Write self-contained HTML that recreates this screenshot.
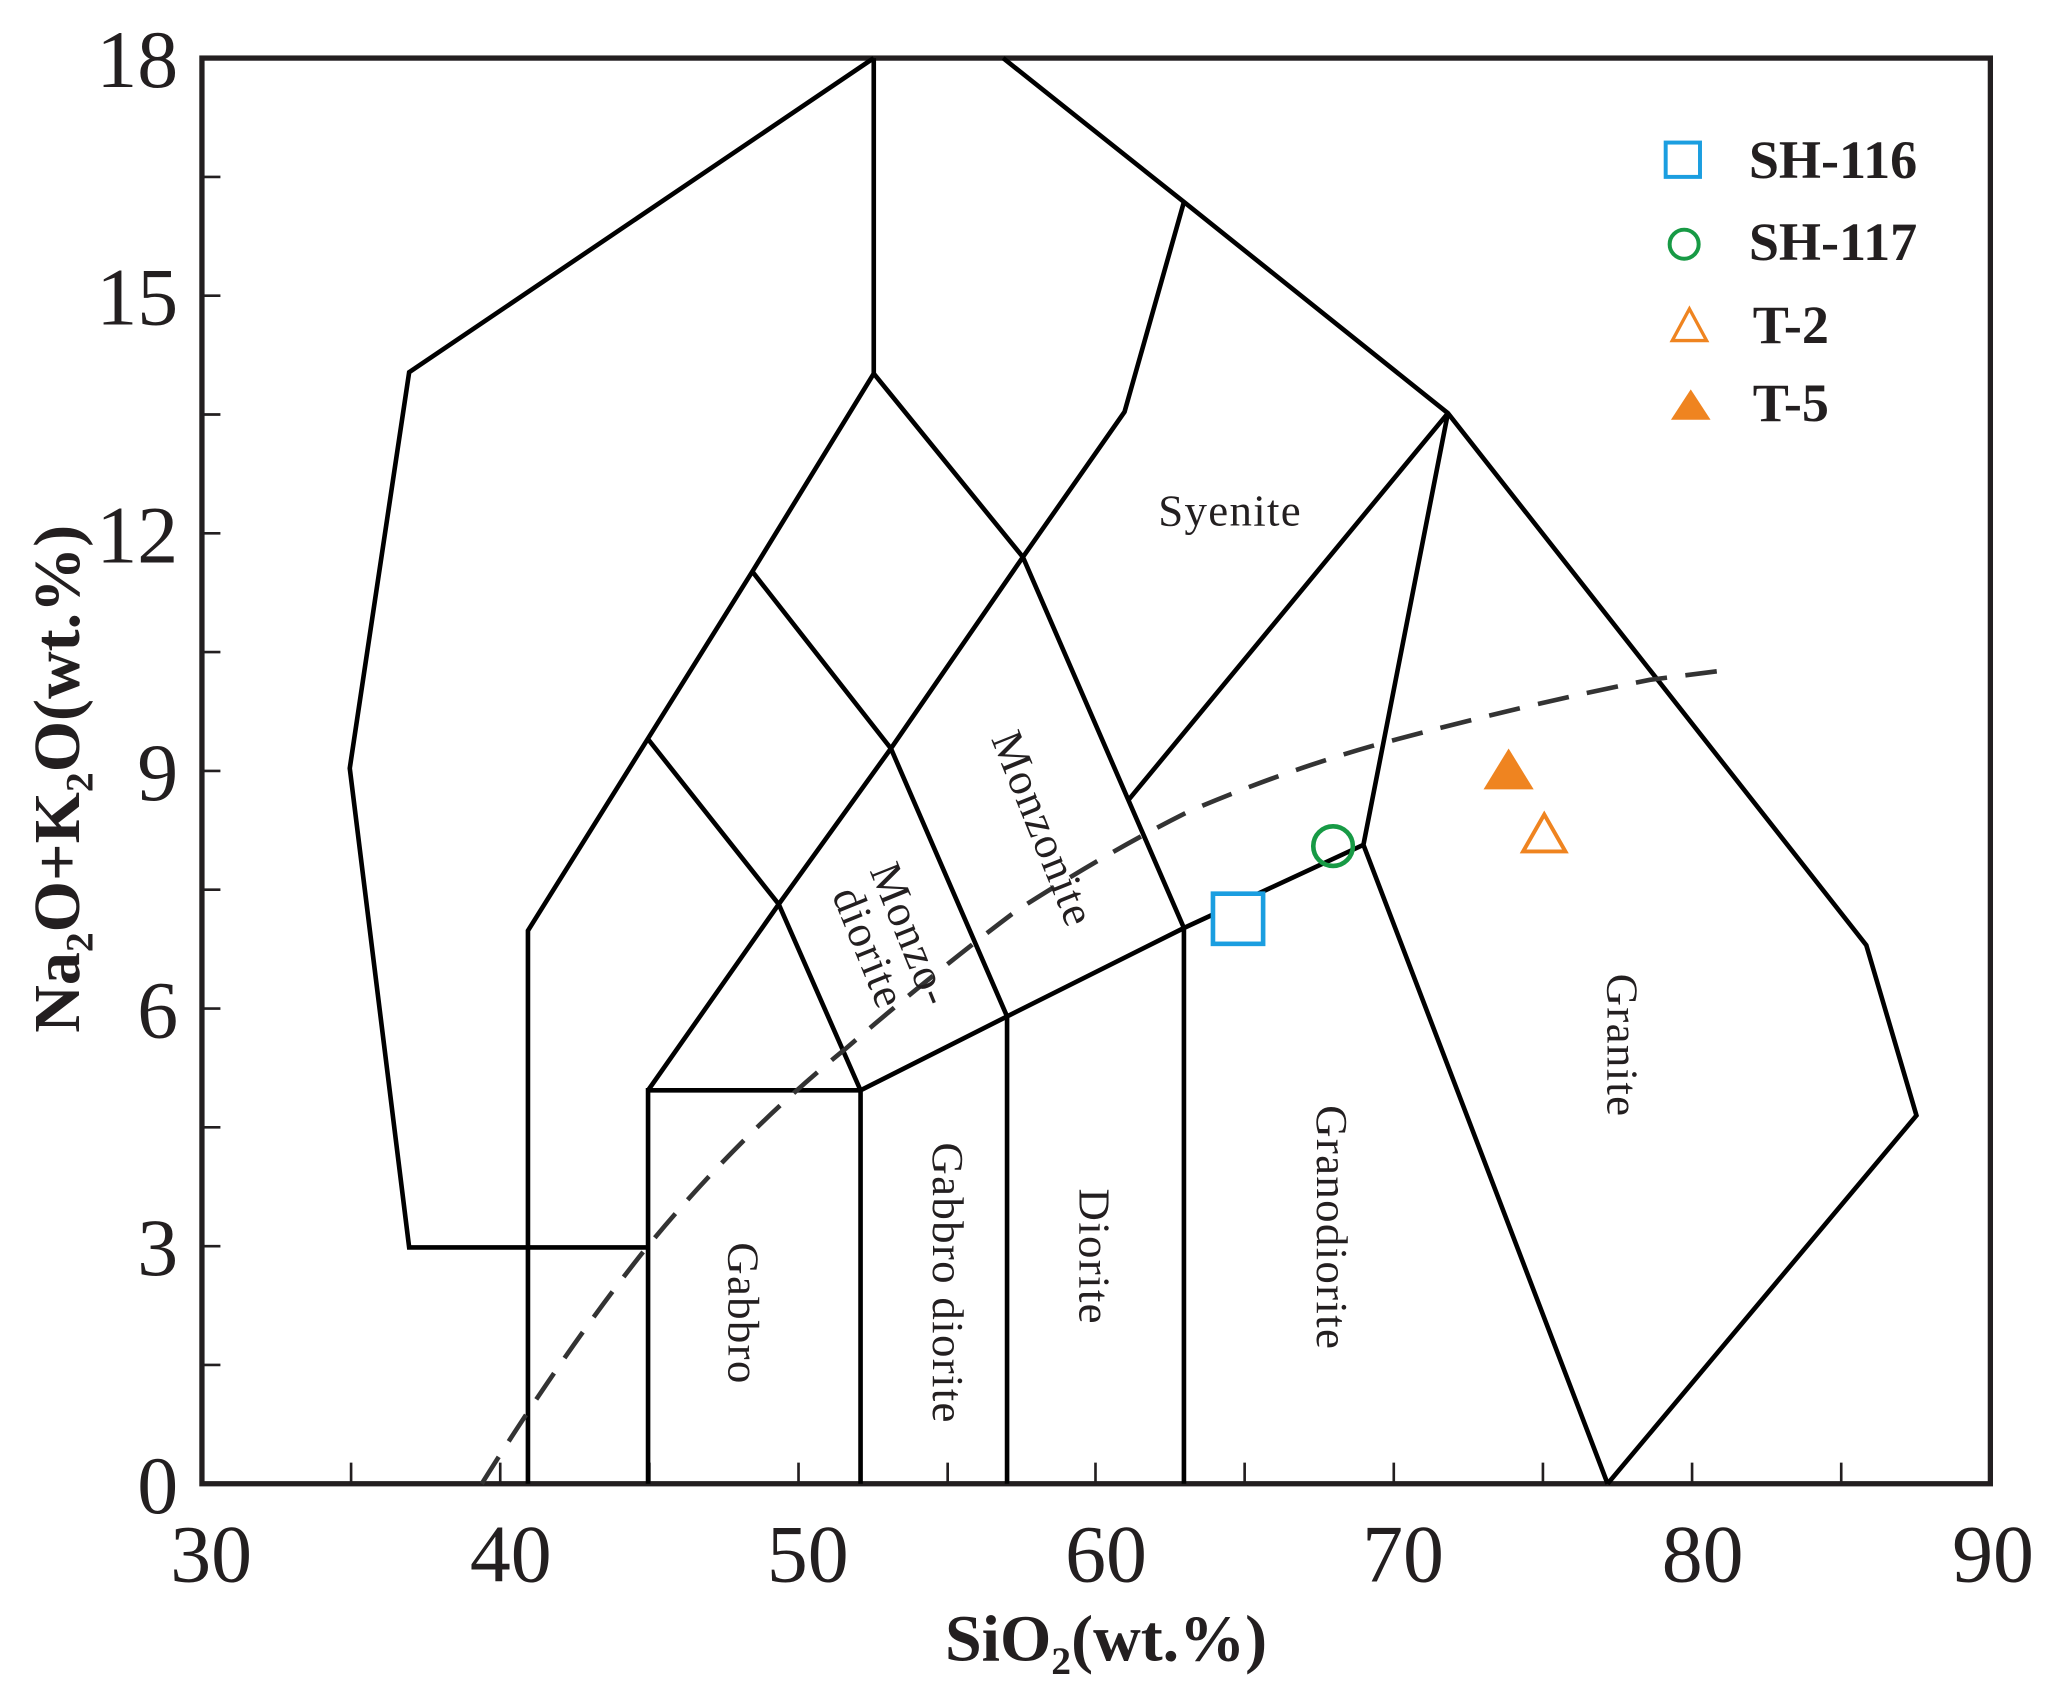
<!DOCTYPE html>
<html><head><meta charset="utf-8"><style>
html,body{margin:0;padding:0;background:#fff;}
svg{display:block;}
text{font-family:"Liberation Serif",serif;}
</style></head><body>
<svg width="2059" height="1691" viewBox="0 0 1560 1281" preserveAspectRatio="none" xmlns="http://www.w3.org/2000/svg">
<rect width="1560" height="1281" fill="#fff"/>
<rect x="153" y="44" width="1355" height="1080" fill="none" stroke="#231f20" stroke-width="4"/>
<g stroke="#231f20" stroke-width="2">
<line x1="153" y1="134" x2="167" y2="134"/><line x1="153" y1="224" x2="167" y2="224"/><line x1="153" y1="314" x2="167" y2="314"/><line x1="153" y1="404" x2="167" y2="404"/><line x1="153" y1="494" x2="167" y2="494"/><line x1="153" y1="584" x2="167" y2="584"/><line x1="153" y1="674" x2="167" y2="674"/><line x1="153" y1="764" x2="167" y2="764"/><line x1="153" y1="854" x2="167" y2="854"/><line x1="153" y1="944" x2="167" y2="944"/><line x1="153" y1="1034" x2="167" y2="1034"/>
<line x1="266" y1="1124" x2="266" y2="1108"/><line x1="379" y1="1124" x2="379" y2="1108"/><line x1="492" y1="1124" x2="492" y2="1108"/><line x1="605" y1="1124" x2="605" y2="1108"/><line x1="718" y1="1124" x2="718" y2="1108"/><line x1="830" y1="1124" x2="830" y2="1108"/><line x1="943" y1="1124" x2="943" y2="1108"/><line x1="1056" y1="1124" x2="1056" y2="1108"/><line x1="1169" y1="1124" x2="1169" y2="1108"/><line x1="1282" y1="1124" x2="1282" y2="1108"/><line x1="1395" y1="1124" x2="1395" y2="1108"/>
</g>
<g font-size="62" fill="#231f20" text-anchor="end">
<text x="135" y="66">18</text><text x="135" y="246">15</text><text x="135" y="426">12</text><text x="135" y="606">9</text><text x="135" y="786">6</text><text x="135" y="966">3</text><text x="135" y="1146">0</text>
</g>
<g font-size="62" fill="#231f20" text-anchor="middle">
<text x="160" y="1198">30</text><text x="387" y="1198">40</text><text x="612" y="1198">50</text><text x="838" y="1198">60</text><text x="1063" y="1198">70</text><text x="1290" y="1198">80</text><text x="1510" y="1198">90</text>
</g>
<text x="838" y="1258" font-size="50" font-weight="bold" text-anchor="middle" fill="#231f20">SiO<tspan font-size="30" dy="10">2</tspan><tspan dy="-10">(wt.%)</tspan></text>
<text transform="translate(60,590) rotate(-90)" font-size="50" font-weight="bold" text-anchor="middle" fill="#231f20">Na<tspan font-size="30" dy="10">2</tspan><tspan dy="-10">O+K</tspan><tspan font-size="30" dy="10">2</tspan><tspan dy="-10">O(wt.%)</tspan></text>
<g fill="none" stroke="#000" stroke-width="3.5" stroke-linejoin="miter">
<polyline points="491,945 310,945 265,582 310,282 662,44"/>
<polyline points="760,44 897,153 1097,313 1414,716 1452,845 1218,1124"/>
<line x1="662" y1="44" x2="662" y2="283"/>
<polyline points="400,1124 400,705 570,433 662,283 775,422 897,703"/>
<polyline points="775,422 852,312 897,153"/>
<polyline points="570,433 675,567 763,770"/>
<polyline points="491,560 590,685 652,826"/>
<polyline points="491,826 590,685 675,567 775,422"/>
<polyline points="855,606 1097,313 1033,640 1218,1124"/>
<polyline points="491,1124 491,826 652,826 763,770 897,703 1033,640"/>
<line x1="652" y1="826" x2="652" y2="1124"/>
<line x1="763" y1="770" x2="763" y2="1124"/>
<line x1="897" y1="703" x2="897" y2="1124"/>
</g>
<path d="M365,1124 Q430,1020 490,945 Q560,860 640,795 Q710,735 770,690 Q840,645 900,615 Q970,585 1040,565 Q1150,535 1250,515 L1305,508" fill="none" stroke="#333" stroke-width="3.5" stroke-dasharray="24,14"/>
<g font-size="34" fill="#231f20" text-anchor="middle" letter-spacing="1">
<text x="932" y="398">Syenite</text>
<text transform="translate(780,632) rotate(68)">Monzonite</text>
<text transform="translate(680,712) rotate(68)">Monzo-</text>
<text transform="translate(648,722) rotate(68)">diorite</text>
<text transform="translate(552,995) rotate(90)">Gabbro</text>
<text transform="translate(707,972) rotate(90)">Gabbro diorite</text>
<text transform="translate(818,952) rotate(90)">Diorite</text>
<text transform="translate(998,930) rotate(90)">Granodiorite</text>
<text transform="translate(1218,792) rotate(90)">Granite</text>
</g>
<rect x="919" y="677" width="38" height="38" fill="#fff" stroke="#1b9ee0" stroke-width="3.5"/>
<circle cx="1010" cy="641" r="15" fill="none" stroke="#179a45" stroke-width="3.5"/>
<polygon points="1170,617 1186,645 1154,645" fill="none" stroke="#ef8420" stroke-width="3"/>
<polygon points="1143,567 1162,598 1124,598" fill="#ef8420"/>
<rect x="1262" y="108" width="26" height="26" fill="none" stroke="#1b9ee0" stroke-width="3"/>
<circle cx="1276" cy="185" r="11" fill="none" stroke="#179a45" stroke-width="3"/>
<polygon points="1280,234 1293,258 1267,258" fill="none" stroke="#ef8420" stroke-width="2.5"/>
<polygon points="1281,295 1296,318 1266,318" fill="#ef8420"/>
<g font-size="41" font-weight="bold" fill="#231f20">
<text x="1325" y="135">SH-116</text>
<text x="1325" y="197">SH-117</text>
<text x="1328" y="260">T-2</text>
<text x="1328" y="319">T-5</text>
</g>
</svg>
</body></html>
